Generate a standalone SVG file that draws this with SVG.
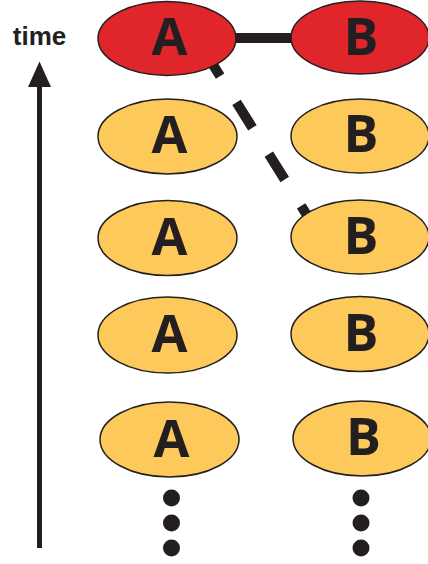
<svg xmlns="http://www.w3.org/2000/svg" width="428" height="564" viewBox="0 0 428 564">
<style>
.red{fill:#E0262A;stroke:#231F20;stroke-width:1.5}
.yel{fill:#FDC95A;stroke:#231F20;stroke-width:1.5}
.lbl{font-family:"Open Sans","Liberation Sans",sans-serif;font-weight:bold;font-size:52px;fill:#231F20;text-anchor:middle}
.dot{fill:#231F20}
</style>
<rect width="428" height="564" fill="#fff"/>
<g id="connectors">
<line x1="204.2" y1="50.6" x2="330" y2="252" stroke="#231F20" stroke-width="10" stroke-dasharray="30 31"/>
<line x1="230" y1="38" x2="300" y2="38" stroke="#231F20" stroke-width="10"/>
</g>
<g id="axis">
<line x1="39.5" y1="84" x2="39.5" y2="548" stroke="#231F20" stroke-width="5"/>
<polygon points="39.5,61.5 51,87 28,87" fill="#231F20"/>
<text x="39.5" y="45" font-family="Liberation Sans,Arial,sans-serif" font-weight="bold" font-size="26" fill="#231F20" text-anchor="middle">time</text>
</g>
<g id="A1"><ellipse class="red" cx="167" cy="38.5" rx="69" ry="37"/><text class="lbl" x="169.5" y="55">A</text></g>
<g id="B1"><ellipse class="red" cx="360" cy="37.5" rx="69" ry="36.5"/><text class="lbl" x="361" y="55">B</text></g>
<g id="A2"><ellipse class="yel" cx="167.5" cy="136.5" rx="69.5" ry="37.5"/><text class="lbl" x="169.5" y="153">A</text></g>
<g id="B2"><ellipse class="yel" cx="360" cy="136" rx="69" ry="37"/><text class="lbl" x="361" y="152">B</text></g>
<g id="A3"><ellipse class="yel" cx="167.5" cy="238" rx="69.5" ry="37.5"/><text class="lbl" x="169.5" y="255">A</text></g>
<g id="B3"><ellipse class="yel" cx="360" cy="237" rx="69" ry="37"/><text class="lbl" x="361" y="254">B</text></g>
<g id="A4"><ellipse class="yel" cx="167.5" cy="335" rx="69.5" ry="38"/><text class="lbl" x="169.5" y="352">A</text></g>
<g id="B4"><ellipse class="yel" cx="360" cy="334" rx="69" ry="37.5"/><text class="lbl" x="361" y="351">B</text></g>
<g id="A5"><ellipse class="yel" cx="169.5" cy="439.5" rx="69.5" ry="37.5"/><text class="lbl" x="171.5" y="456.5">A</text></g>
<g id="B5"><ellipse class="yel" cx="362" cy="438.5" rx="69" ry="37.5"/><text class="lbl" x="363.5" y="455">B</text></g>
<g id="dotsA"><circle class="dot" cx="171.5" cy="498" r="8.5"/><circle class="dot" cx="171.5" cy="523" r="8.5"/><circle class="dot" cx="171.5" cy="548" r="8.5"/></g>
<g id="dotsB"><circle class="dot" cx="361" cy="498" r="8.5"/><circle class="dot" cx="361" cy="523" r="8.5"/><circle class="dot" cx="361" cy="548" r="8.5"/></g>
</svg>
